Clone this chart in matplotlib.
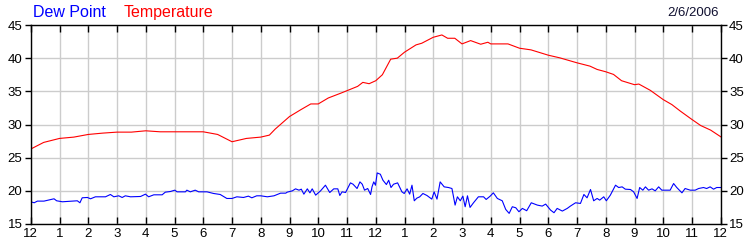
import matplotlib
matplotlib.use("Agg")
import matplotlib.pyplot as plt

# temperature (hour of day, degrees)
temp_hours = [0, 0.45, 1.0, 1.5, 2.0, 2.5, 3.0, 3.5, 4.0, 4.5, 5.0, 5.5, 6.0, 6.5,
              7.0, 7.5, 8.0, 8.3, 8.5, 9.0, 9.4, 9.74, 10.0, 10.35, 10.8, 11.0,
              11.37, 11.55, 11.77, 12.0, 12.23, 12.52, 12.75, 13.0, 13.4, 13.6,
              14.0, 14.3, 14.5, 14.75, 15.0, 15.3, 15.65, 15.9, 16.0, 16.6, 17.0,
              17.4, 18.0, 18.4, 19.0, 19.45, 19.7, 20.0, 20.27, 20.55, 21.0, 21.15,
              21.55, 22.0, 22.3, 22.6, 23.0, 23.3, 23.65, 24.0]
temp_vals = [26.3, 27.3, 27.9, 28.1, 28.5, 28.7, 28.85, 28.85, 29.05, 28.9, 28.9,
             28.9, 28.9, 28.5, 27.4, 27.9, 28.1, 28.4, 29.3, 31.2, 32.25, 33.1,
             33.1, 34.0, 34.75, 35.1, 35.75, 36.35, 36.15, 36.6, 37.5, 39.85, 40.0,
             40.9, 42.0, 42.25, 43.15, 43.5, 43.0, 43.0, 42.15, 42.65, 42.1, 42.4,
             42.15, 42.15, 41.5, 41.25, 40.45, 40.05, 39.3, 38.8, 38.3, 37.95,
             37.55, 36.6, 36.0, 36.1, 35.15, 33.75, 33.0, 32.0, 30.75, 29.85,
             29.15, 28.15]

# dew point
dew_hours = [0, 0.12, 0.23, 0.46, 0.81, 0.90, 1.10, 1.62, 1.71, 1.79, 1.97, 2.08,
             2.25, 2.43, 2.60, 2.77, 2.89, 3.06, 3.18, 3.29, 3.47, 3.82, 3.99,
             4.10, 4.28, 4.57, 4.68, 4.86, 5.01, 5.09, 5.38, 5.43, 5.55, 5.72,
             5.84, 6.13, 6.36, 6.59, 6.82, 7.0, 7.17, 7.40, 7.57, 7.69, 7.86,
             8.0, 8.23, 8.46, 8.69, 8.87, 8.92, 9.10, 9.21, 9.33, 9.41, 9.50,
             9.62, 9.71, 9.79, 9.91, 10.08, 10.25, 10.40, 10.54, 10.68, 10.75,
             10.83, 10.95, 11.12, 11.21, 11.35, 11.45, 11.53, 11.61, 11.72, 11.82,
             11.87, 11.93, 11.99, 12.05, 12.16, 12.25, 12.37, 12.45, 12.53, 12.62,
             12.76, 12.91, 12.99, 13.09, 13.18, 13.26, 13.34, 13.43, 13.53, 13.64,
             13.78, 13.95, 14.03, 14.13, 14.24, 14.38, 14.53, 14.65, 14.76, 14.84,
             14.94, 15.03, 15.11, 15.19, 15.28, 15.40, 15.57, 15.75, 15.84, 15.98,
             16.09, 16.23, 16.40, 16.52, 16.64, 16.75, 16.87, 16.98, 17.10, 17.25,
             17.41, 17.62, 17.79, 17.91, 18.08, 18.20, 18.31, 18.49, 18.66, 18.77,
             18.95, 19.12, 19.24, 19.35, 19.47, 19.58, 19.70, 19.79, 19.93, 20.02,
             20.16, 20.34, 20.45, 20.57, 20.68, 20.86, 20.97, 21.09, 21.18, 21.29,
             21.38, 21.49, 21.61, 21.72, 21.84, 21.95, 22.13, 22.24, 22.36, 22.47,
             22.65, 22.76, 22.94, 23.11, 23.23, 23.40, 23.51, 23.63, 23.75, 23.86,
             24.0]
dew_vals = [18.35, 18.2, 18.45, 18.45, 18.8, 18.5, 18.35, 18.5, 18.2, 18.95, 19.0,
            18.8, 19.1, 19.1, 19.1, 19.45, 19.1, 19.25, 19.0, 19.25, 19.1, 19.15,
            19.5, 19.1, 19.4, 19.4, 19.8, 19.9, 20.1, 19.85, 19.85, 20.1, 19.85,
            20.1, 19.85, 19.85, 19.6, 19.45, 18.85, 18.85, 19.1, 19.0, 19.2, 18.95,
            19.25, 19.25, 19.1, 19.25, 19.65, 19.65, 19.8, 20.0, 20.3, 20.1, 20.25,
            19.5, 20.3, 19.7, 20.3, 19.35, 20.0, 20.85, 19.75, 20.3, 20.3, 19.3,
            19.85, 19.75, 21.2, 21.0, 20.35, 21.35, 21.0, 20.1, 20.35, 19.45, 20.6,
            21.35, 20.85, 22.7, 22.5, 21.6, 20.95, 21.6, 20.5, 21.0, 21.2, 19.85,
            19.6, 20.3, 19.5, 20.85, 18.5, 18.9, 19.1, 19.6, 19.3, 18.75, 19.85,
            18.75, 21.35, 20.6, 20.5, 20.35, 17.85, 19.1, 18.5, 19.2, 17.6, 19.25,
            17.5, 18.2, 19.1, 19.1, 18.7, 19.2, 19.7, 18.85, 18.5, 17.2, 16.6,
            17.6, 17.45, 16.85, 17.35, 17.0, 18.2, 17.85, 17.7, 18.0, 17.1, 16.7,
            17.35, 16.95, 17.35, 17.7, 18.2, 18.1, 19.45, 18.95, 20.2, 18.5, 18.85,
            18.6, 19.1, 18.5, 19.35, 20.85, 20.5, 20.6, 20.25, 20.2, 19.85, 18.85,
            20.5, 20.1, 20.6, 20.1, 20.3, 20.0, 20.6, 20.1, 20.1, 20.1, 21.1, 20.5,
            19.7, 20.35, 20.1, 20.1, 20.35, 20.5, 20.35, 20.6, 20.25, 20.5, 20.5]

hour_labels = ["12", "1", "2", "3", "4", "5", "6", "7", "8", "9", "10", "11",
               "12", "1", "2", "3", "4", "5", "6", "7", "8", "9", "10", "11", "12"]
y_ticks = [15, 20, 25, 30, 35, 40, 45]

plt.rcParams['font.family'] = ['Liberation Sans', 'DejaVu Sans']

fig = plt.figure(figsize=(7.5, 2.5), dpi=100)
ax = fig.add_axes([0.041, 0.104, 0.920, 0.796])

ax.plot(temp_hours, temp_vals, color='#ff0000', lw=0.8)
ax.plot(dew_hours, dew_vals, color='#0000ff', lw=0.8)

ax.set_xlim(0, 24)
ax.set_ylim(15, 45)
ax.set_xticks(range(25))
ax.set_xticklabels(hour_labels)
ax.set_yticks(y_ticks)
ax.grid(True, color='#cccccc', lw=1.0)
ax.set_axisbelow(True)

ax.tick_params(axis='x', direction='in', length=5, width=1, top=True,
               labelsize=9.5, pad=3, color='black')
ax.tick_params(axis='y', direction='out', length=4, width=1, right=True,
               labelright=True, labelsize=9.5, pad=2, color='black')
for s in ax.spines.values():
    s.set_color('black')
    s.set_linewidth(1.0)

fig.text(0.044, 0.95, "Dew Point", color='#0000ff', fontsize=11.5, va='center')
fig.text(0.165, 0.95, "Temperature", color='#ff0000', fontsize=11.5, va='center')
fig.text(0.958, 0.95, "2/6/2006", color='#101030', fontsize=9.5, ha='right', va='center')

fig.savefig("out.png", dpi=100)
